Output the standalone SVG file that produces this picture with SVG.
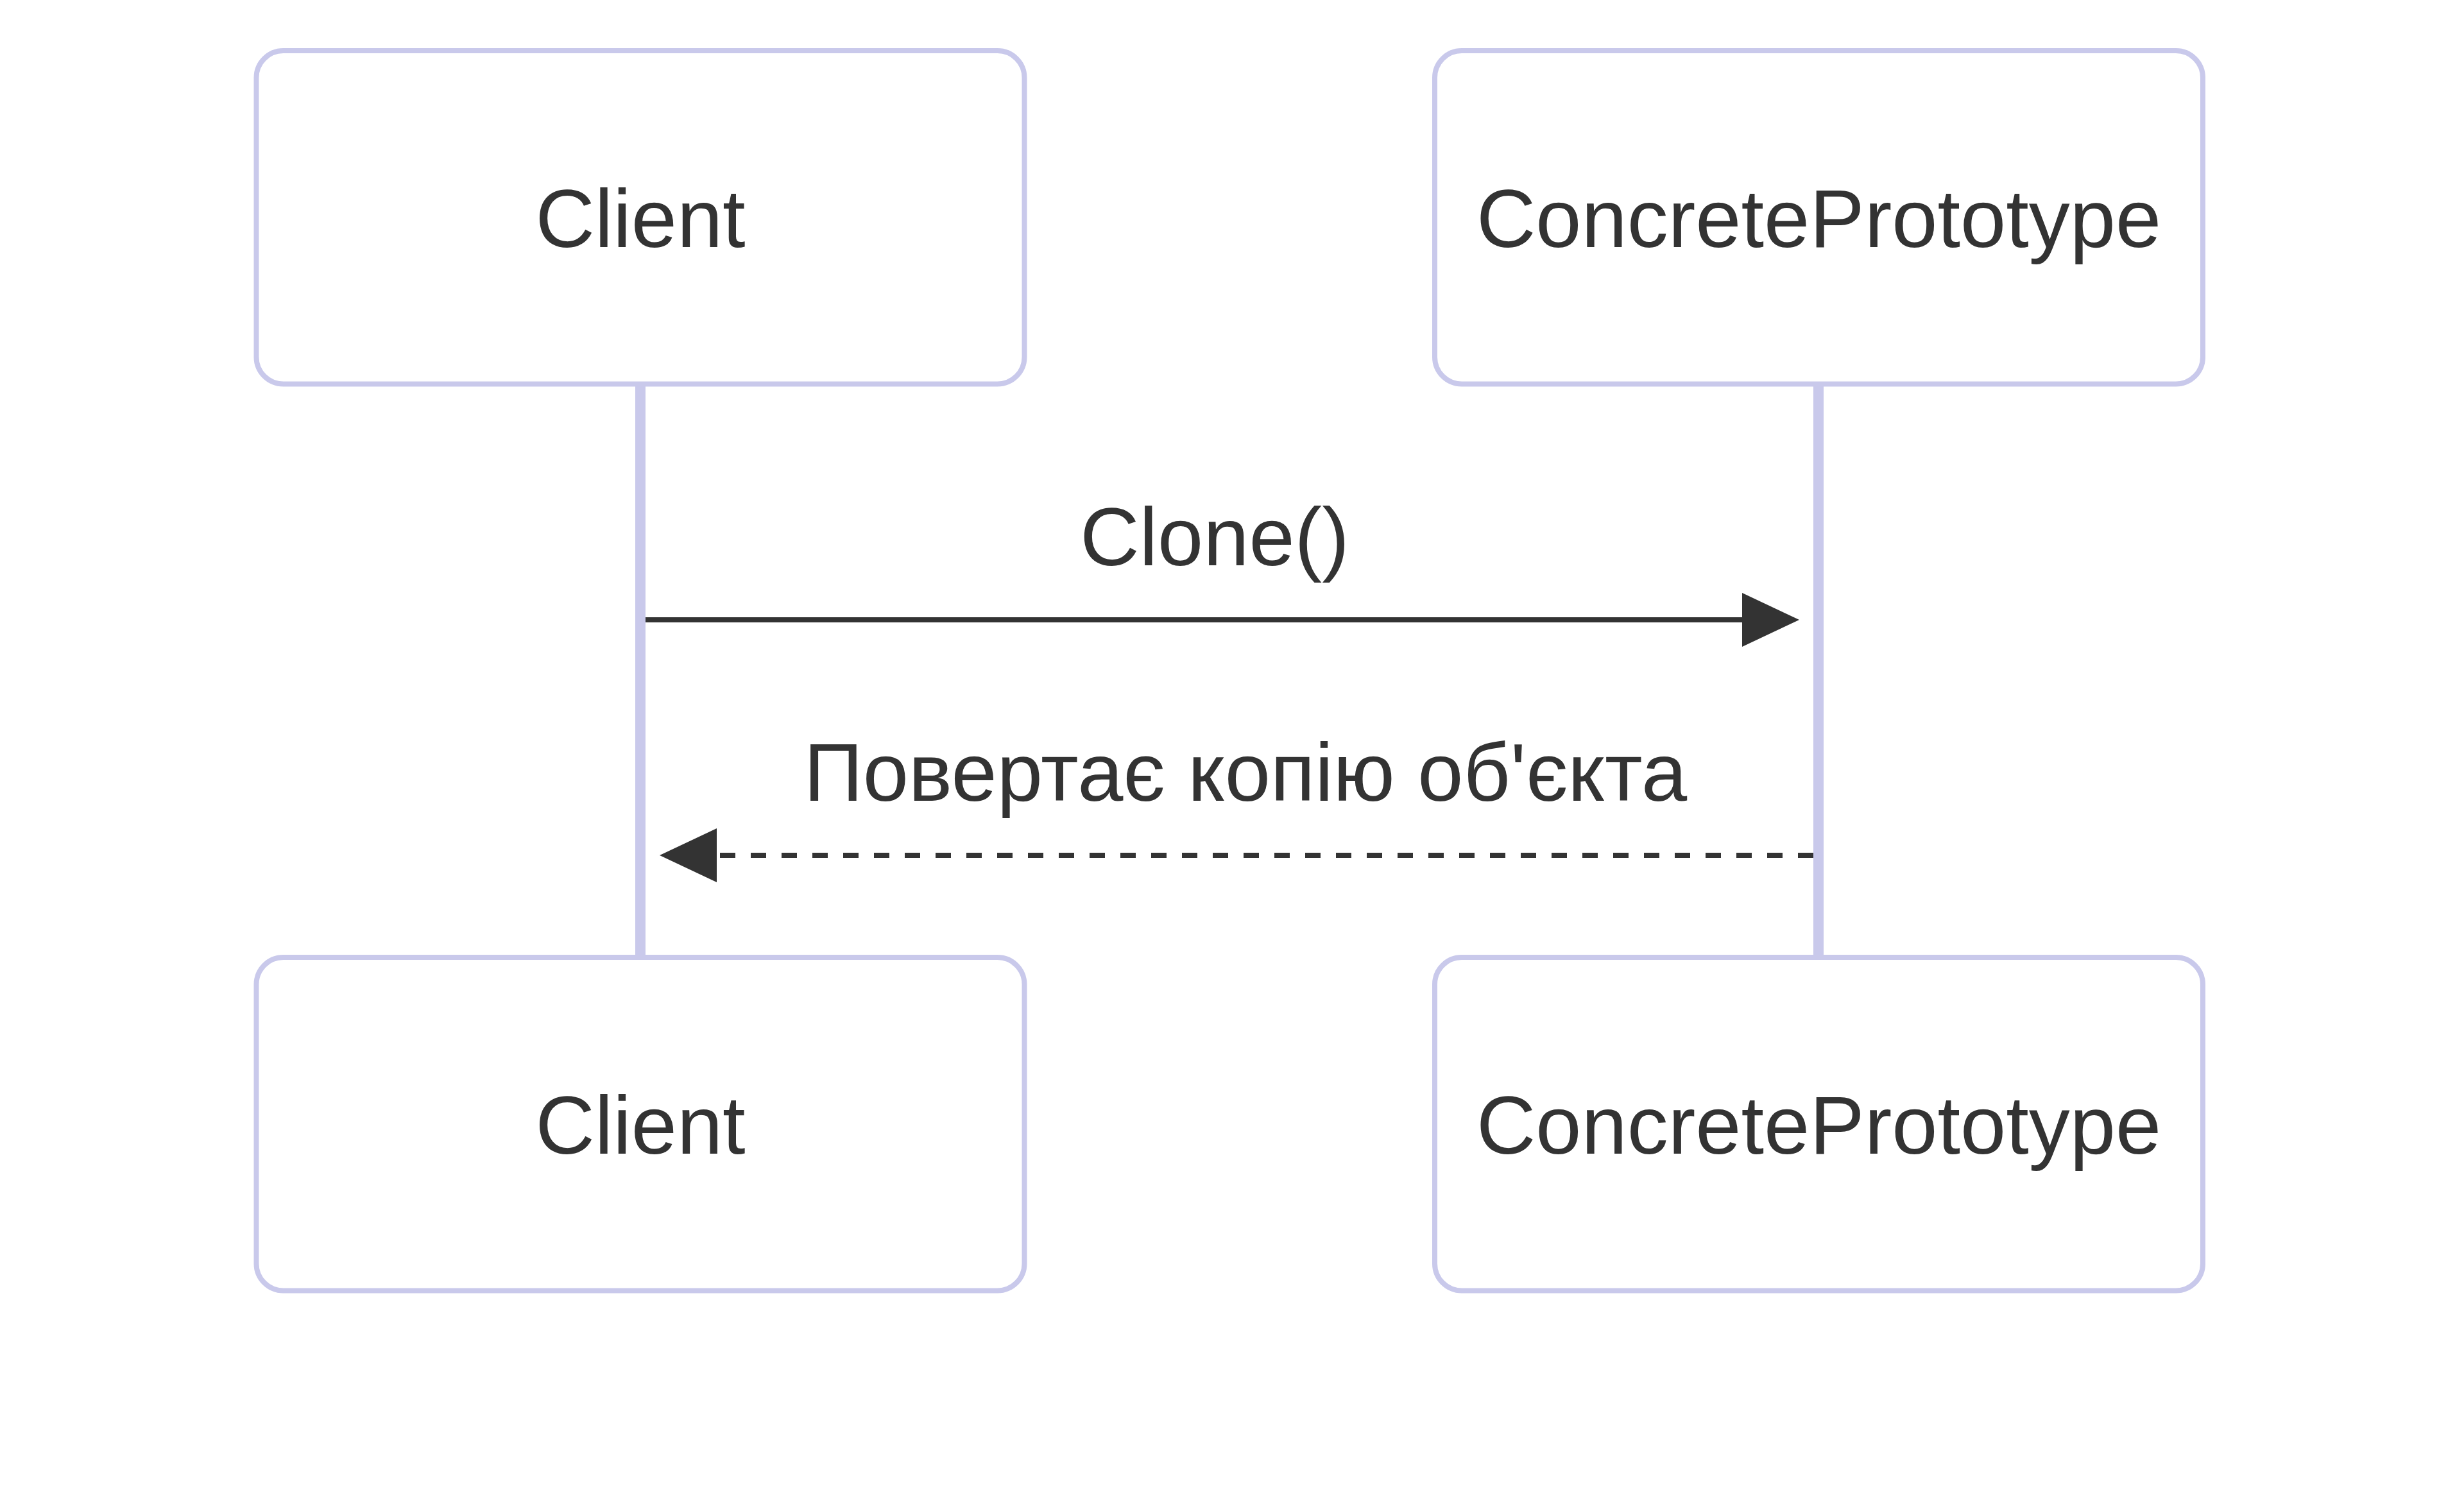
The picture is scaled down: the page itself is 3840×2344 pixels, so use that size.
<svg xmlns="http://www.w3.org/2000/svg" width="3840" height="2344" viewBox="0 0 3840 2344">
  <style>
    .actor { fill: #ffffff; stroke: #c9c9eb; stroke-width: 8; }
    .actor-text { font-family: "Liberation Sans", Arial, sans-serif; font-size: 128px; fill: #333333; text-anchor: middle; }
    .lifeline { stroke: #c9c9eb; stroke-width: 16; }
    .msg { stroke: #333333; stroke-width: 8; fill: none; }
    .msg-dashed { stroke-dasharray: 24 24; }
    .msg-text { font-family: "Liberation Sans", Arial, sans-serif; font-size: 128px; fill: #333333; text-anchor: middle; }
  </style>
  <defs>
    <marker id="arrowhead" markerUnits="userSpaceOnUse" viewBox="0 0 89 84" markerWidth="89" markerHeight="84" refX="0" refY="42" orient="auto">
      <path d="M0,0 L89,42 L0,84 z" fill="#333333"/>
    </marker>
  </defs>
  <rect x="0" y="0" width="3840" height="2344" fill="#ffffff"/>

  <g id="lifelines">
    <line class="lifeline" x1="998" y1="598" x2="998" y2="1492"/>
    <line class="lifeline" x1="2834" y1="598" x2="2834" y2="1492"/>
  </g>

  <g id="client-top">
    <rect class="actor" x="399.5" y="79" width="1197" height="519.5" rx="42" ry="42"/>
    <text class="actor-text" x="998" y="385">Client</text>
  </g>
  <g id="concreteprototype-top">
    <rect class="actor" x="2236" y="79" width="1197" height="519.5" rx="42" ry="42"/>
    <text class="actor-text" x="2834.5" y="385">ConcretePrototype</text>
  </g>
  <g id="client-bottom">
    <rect class="actor" x="399.5" y="1492" width="1197" height="519.5" rx="42" ry="42"/>
    <text class="actor-text" x="998" y="1798">Client</text>
  </g>
  <g id="concreteprototype-bottom">
    <rect class="actor" x="2236" y="1492" width="1197" height="519.5" rx="42" ry="42"/>
    <text class="actor-text" x="2834.5" y="1798">ConcretePrototype</text>
  </g>

  <g id="connectors">
    <g id="msg-clone">
      <line class="msg" x1="1006" y1="966" x2="2715" y2="966" marker-end="url(#arrowhead)"/>
      <text class="msg-text" x="1893" y="881">Clone()</text>
    </g>
    <g id="msg-return">
      <line class="msg msg-dashed" x1="2826" y1="1333" x2="1117" y2="1333" marker-end="url(#arrowhead)"/>
      <text class="msg-text" x="1941" y="1248">Повертає копію об'єкта</text>
    </g>
  </g>
</svg>
